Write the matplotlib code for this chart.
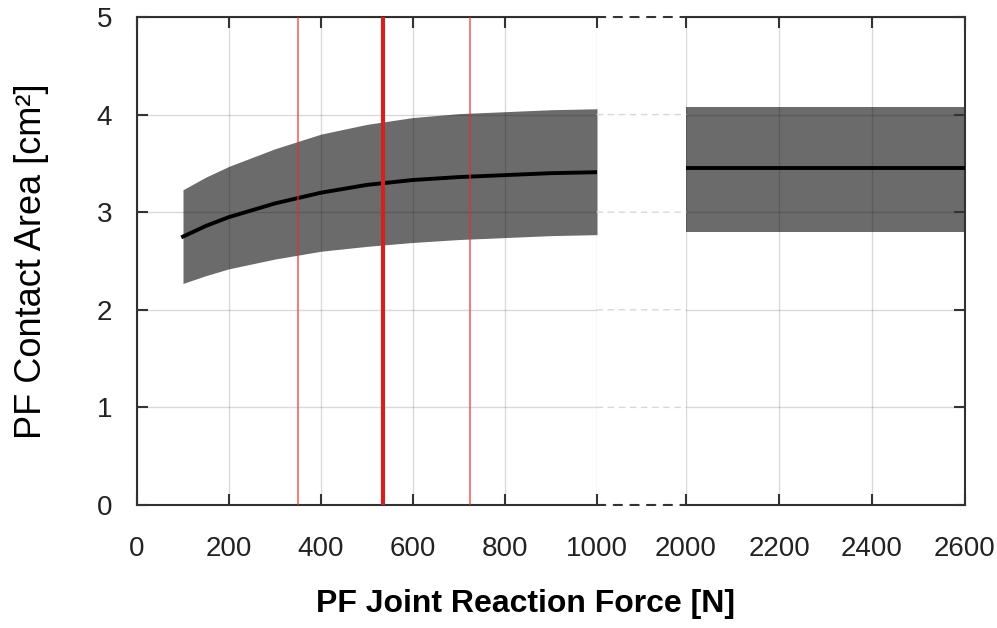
import matplotlib.pyplot as plt
from matplotlib.patches import ConnectionPatch

plt.rcParams['font.family'] = ['Liberation Sans', 'DejaVu Sans']

# left segment (0-1000 N)
force_lo = [100, 150, 200, 300, 400, 500, 600, 700, 800, 900, 1000]
mean_lo = [2.75, 2.86, 2.95, 3.09, 3.20, 3.28, 3.33, 3.36, 3.38, 3.40, 3.41]
upper_lo = [3.23, 3.36, 3.47, 3.65, 3.80, 3.90, 3.97, 4.01, 4.03, 4.05, 4.06]
lower_lo = [2.27, 2.35, 2.42, 2.52, 2.60, 2.65, 2.69, 2.72, 2.74, 2.76, 2.77]

# right segment (2000-2600 N)
force_hi = [2000, 2600]
mean_hi = [3.45, 3.45]
upper_hi = [4.08, 4.08]
lower_hi = [2.80, 2.80]

# vertical reference lines (mean and +/- sd)
ref_center = 535
ref_sides = [350, 725]

xticks_lo = [0, 200, 400, 600, 800, 1000]
xticks_hi = [2000, 2200, 2400, 2600]
yticks = [0, 1, 2, 3, 4, 5]

band_color = '#6b6b6b'
spine_color = '#333333'

fig = plt.figure(figsize=(9.97, 6.28), dpi=100)
ax1 = fig.add_axes([0.1374, 0.1959, 0.4614, 0.777])
ax2 = fig.add_axes([0.6881, 0.1959, 0.2798, 0.777])

for ax, x, m, u, l in [(ax1, force_lo, mean_lo, upper_lo, lower_lo),
                       (ax2, force_hi, mean_hi, upper_hi, lower_hi)]:
    ax.fill_between(x, l, u, color=band_color, lw=0, zorder=1)
    ax.plot(x, m, color='black', lw=2.8, zorder=3)
    ax.set_ylim(0, 5)
    ax.set_yticks(yticks)
    ax.grid(True, color='black', alpha=0.15, lw=1)
    ax.set_axisbelow(False)
    ax.tick_params(direction='in', length=8, width=1.5, color=spine_color,
                   labelsize=20, labelcolor='#222222')
    ax.tick_params(axis='x', pad=22)
    ax.tick_params(axis='y', pad=18)
    for s in ax.spines.values():
        s.set_color(spine_color)
        s.set_linewidth(1.5)

for xr in ref_sides:
    ax1.axvline(xr, color='#e03030', alpha=0.6, lw=1.5, zorder=4)
ax1.axvline(ref_center, color='#d42020', lw=3, zorder=4)

ax1.set_xlim(0, 1000)
ax1.set_xticks(xticks_lo)
ax1.spines['right'].set_visible(False)
ax1.tick_params(top=True, left=True, right=False)

ax2.set_xlim(2000, 2600)
ax2.set_xticks(xticks_hi)
ax2.spines['left'].set_visible(False)
ax2.tick_params(top=True, left=False, right=True, labelleft=False)

# dashed connectors across the axis break
for yv in yticks:
    edge = yv in (yticks[0], yticks[-1])
    con = ConnectionPatch(xyA=(1000, yv), coordsA=ax1.transData,
                          xyB=(2000, yv), coordsB=ax2.transData,
                          color=spine_color if edge else '#d8d8d8',
                          lw=1.5 if edge else 1, ls=(0, (4, 4)))
    fig.add_artist(con)

ax1.set_ylabel('PF Contact Area [cm²]', fontsize=26, labelpad=34)
fig.text(0.527, 0.038, 'PF Joint Reaction Force [N]', fontsize=23,
         fontweight='bold', ha='center', va='center')

fig.savefig('out.png', dpi=100)
